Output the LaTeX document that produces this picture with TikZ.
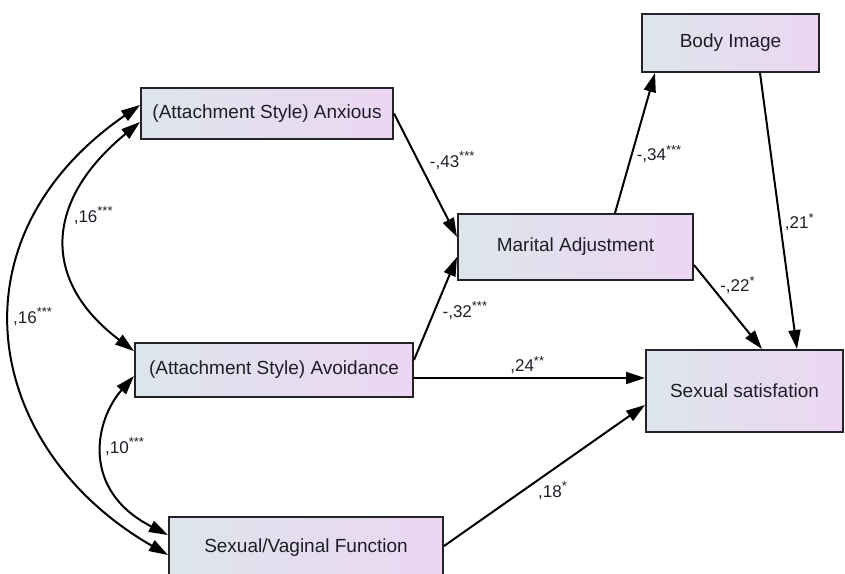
\documentclass[tikz,border=0pt]{standalone}
\usepackage{fontspec}
\setmainfont{Liberation Sans}
\usepackage{tikz}
\usetikzlibrary{arrows.meta,positioning}
\usepackage{xcolor}
\definecolor{boxleft}{RGB}{221,229,235}
\definecolor{boxright}{RGB}{236,214,243}
\definecolor{boxline}{RGB}{35,35,42}
\definecolor{inktext}{RGB}{30,30,40}
\newcommand{\stars}[1]{\raisebox{0.4em}{\fontsize{13}{14}\selectfont #1}}

\begin{document}
\begin{tikzpicture}[x=1pt, y=-1pt,
    varbox/.style={draw=boxline, line width=2pt, left color=boxleft, right color=boxright,
      inner sep=0pt, text=inktext, font=\fontsize{19}{22}\selectfont},
    path/.style={line width=2pt, draw=black, -{Triangle[length=19pt,width=12pt]}},
    cov/.style={line width=2pt, draw=black, {Triangle[length=19pt,width=12pt]}-{Triangle[length=19pt,width=12pt]}},
    est/.style={inner sep=1pt, text=inktext, font=\fontsize{17}{19}\selectfont}]
        \clip (0,0) rectangle (845,573);
        % observed variables
        \node[varbox, minimum width=252pt, minimum height=51pt] (anx) at (267,113.5) {(Attachment Style) Anxious};
        \node[varbox, minimum width=278pt, minimum height=54pt] (avo) at (274,370) {(Attachment Style) Avoidance};
        \node[varbox, minimum width=274pt, minimum height=62pt] (svf) at (306,548) {Sexual/Vaginal Function};
        \node[varbox, minimum width=235pt, minimum height=66pt] (mar) at (575.5,247) {Marital Adjustment};
        \node[varbox, minimum width=177pt, minimum height=58pt] (body) at (730.5,43) {Body Image};
        \node[varbox, minimum width=197pt, minimum height=82pt] (sat) at (744.5,391) {Sexual satisfation};
        % regression paths
        \draw[path] (anx.east) -- ([yshift=10pt]mar.west)
          node[est, pos=0.38, anchor=west, xshift=10pt] {-,43\stars{***}};
        \draw[path] ([yshift=10pt]avo.east) -- ([yshift=-10pt]mar.west)
          node[est, pos=0.48, anchor=west, xshift=6pt] {-,32\stars{***}};
        \draw[path] ([xshift=39.5pt]mar.north) -- ([xshift=-75.5pt]body.south)
          node[est, pos=0.42, anchor=west, xshift=3pt] {-,34\stars{***}};
        \draw[path] ([xshift=29.5pt]body.south) -- ([xshift=52.5pt]sat.north)
          node[est, pos=0.54, anchor=west, xshift=3pt] {,21\stars{*}};
        \draw[path] ([yshift=-18pt]mar.east) -- ([xshift=17.5pt]sat.north)
          node[est, pos=0.24, anchor=west, xshift=8pt] {-,22\stars{*}};
        \draw[path] ([yshift=-8pt]avo.east) -- ([yshift=13pt]sat.west)
          node[est, pos=0.49, anchor=south, yshift=2pt] {,24\stars{**}};
        \draw[path] ([yshift=2pt]svf.east) -- ([yshift=-14pt]sat.west)
          node[est, pos=0.54, anchor=north, yshift=-10pt] {,18\stars{*}};
        % covariances
        \draw[cov] ([yshift=8.5pt]anx.west) .. controls (-55,240) and (-15,450) .. ([yshift=-7pt]svf.west)
          node[est, pos=0.47, anchor=west, xshift=0pt, yshift=10pt] {,16\stars{***}};
        \draw[cov] ([yshift=-8.5pt]anx.west) .. controls (45,200) and (40,280) .. ([yshift=19pt]avo.west)
          node[est, pos=0.4, anchor=west, xshift=2pt] {,16\stars{***}};
        \draw[cov] ([yshift=-6pt]avo.west) .. controls (95,420) and (80,490) .. ([yshift=13pt]svf.west)
          node[est, pos=0.48, anchor=west, xshift=0pt, yshift=5pt] {,10\stars{***}};
      \end{tikzpicture}
\end{document}
